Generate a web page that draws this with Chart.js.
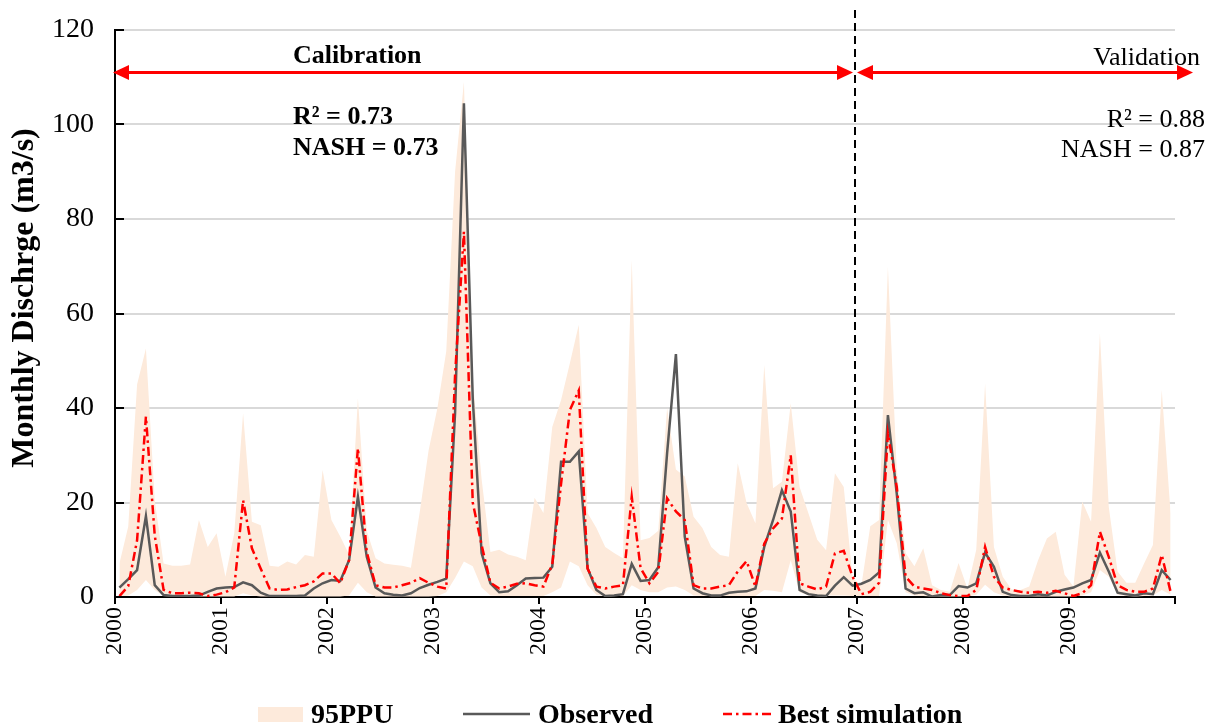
<!DOCTYPE html>
<html>
<head>
<meta charset="utf-8">
<script src="https://cdn.jsdelivr.net/npm/chart.js@4.4.1/dist/chart.umd.min.js"></script>
<style>
html,body{margin:0;padding:0;background:#fff;}
#wrap{width:1208px;height:727px;position:relative;}
</style>
</head>
<body>
<div id="wrap"><canvas id="c" width="1208" height="727"></canvas></div>
<script>
// ---- data (monthly, Jan 2000 .. Dec 2009) ----
const yearLabels = ['2000','2001','2002','2003','2004','2005','2006','2007','2008','2009'];
const yTickValues = [0, 20, 40, 60, 80, 100, 120];
const yTitle = 'Monthly Dischrge (m3/s)';

const observed = [
  2.0, 3.8, 5.7, 17.1, 2.5, 0.4, 0.2, 0.2, 0.2, 0.3, 1.1, 1.8,
  2.0, 2.1, 3.1, 2.5, 0.9, 0.2, 0.2, 0.2, 0.2, 0.3, 1.8, 2.9,
  3.6, 3.4, 7.8, 21.2, 8.5, 2.0, 0.8, 0.5, 0.3, 0.8, 1.9, 2.6,
  3.2, 3.9, 39.0, 104.5, 42.0, 9.3, 2.9, 1.0, 1.2, 2.5, 3.9, 4.0,
  4.1, 6.4, 28.6, 28.6, 30.8, 6.1, 1.5, 0.2, 0.3, 0.6, 7.0, 3.4,
  3.6, 6.3, 30.4, 51.4, 12.8, 1.8, 0.8, 0.3, 0.3, 0.9, 1.1, 1.2,
  1.8, 10.6, 16.3, 22.6, 18.1, 1.5, 0.6, 0.3, 0.2, 2.4, 4.2, 2.4,
  2.8, 3.6, 5.2, 38.5, 21.9, 1.8, 0.8, 1.0, 0.1, 0.4, 0.4, 2.3,
  2.0, 2.9, 9.4, 6.4, 1.1, 0.4, 0.2, 0.2, 0.6, 0.3, 1.1, 1.6,
  2.0, 2.9, 3.6, 9.4, 5.4, 0.9, 0.6, 0.3, 0.8, 0.6, 5.7, 3.6
];

const bestSimulation = [
  0.2, 2.3, 12.0, 38.2, 13.0, 1.5, 0.8, 0.8, 0.9, 0.8, 0.2, 0.5,
  1.0, 2.0, 20.5, 10.3, 6.0, 1.8, 1.5, 1.6, 2.1, 2.5, 3.3, 5.0,
  5.0, 2.9, 7.8, 31.5, 9.5, 2.5, 2.0, 2.0, 2.5, 3.0, 4.0, 3.0,
  2.2, 1.8, 47.0, 77.3, 20.0, 11.0, 3.0, 1.8, 2.2, 2.8, 2.9, 2.5,
  2.2, 6.9, 24.0, 39.6, 43.7, 6.0, 2.2, 1.8, 2.2, 2.5, 21.2, 6.1,
  2.9, 5.3, 20.9, 18.1, 16.3, 2.5, 1.8, 1.8, 2.2, 2.5, 5.4, 7.6,
  2.2, 11.3, 14.5, 16.6, 30.0, 2.9, 2.2, 1.6, 2.2, 9.2, 9.8, 4.3,
  0.6, 1.1, 3.0, 34.6, 23.3, 4.3, 2.2, 1.8, 1.5, 0.8, 0.4, 0.2,
  0.2, 1.5, 10.6, 4.3, 2.0, 1.5, 1.1, 0.9, 1.1, 0.9, 1.3, 0.8,
  0.2, 0.8, 2.5, 13.8, 8.5, 2.5, 1.5, 1.1, 1.1, 1.8, 8.9, 1.1
];

const ppuUpper = [
  7.1, 14.9, 45.0, 52.6, 20.5, 7.1, 6.6, 6.6, 6.9, 16.3, 10.6, 13.5,
  4.3, 13.5, 38.9, 15.9, 15.2, 6.6, 6.4, 7.5, 6.9, 8.9, 8.5, 26.9,
  16.3, 12.8, 9.0, 42.0, 14.0, 8.2, 7.1, 6.8, 6.6, 6.2, 18.0, 31.0,
  40.0, 52.0, 90.0, 109.0, 46.0, 25.0, 9.5, 10.0, 9.0, 8.5, 7.8, 21.0,
  17.8, 36.0, 41.7, 49.5, 57.6, 17.8, 14.6, 10.6, 9.3, 8.2, 71.3, 12.0,
  12.5, 14.0, 40.0, 27.0, 25.5, 17.0, 14.6, 10.6, 8.9, 8.5, 28.3, 19.9,
  15.6, 49.1, 23.0, 24.4, 41.0, 23.3, 17.7, 12.1, 9.9, 26.2, 23.3, 4.0,
  2.5, 15.0, 16.3, 69.9, 27.0, 9.3, 6.5, 10.3, 2.5, 1.5, 1.1, 7.2,
  1.8, 10.0, 45.2, 10.6, 4.3, 1.6, 1.5, 2.2, 7.8, 12.4, 13.8, 4.7,
  2.2, 20.2, 15.9, 55.8, 19.1, 5.4, 3.0, 3.0, 7.1, 11.0, 43.8, 17.7
];

const ppuLower = [
  0.1, 0.3, 1.5, 3.6, 1.5, 0.2, 0.1, 0.1, 0.1, 0.1, 0.1, 0.1,
  0.1, 0.1, 0.8, 0.3, 0.1, 0.1, 0.1, 0.1, 0.1, 0.1, 0.1, 0.1,
  0.1, 0.1, 0.3, 3.0, 1.0, 0.1, 0.1, 0.1, 0.1, 0.1, 0.1, 0.1,
  0.2, 1.0, 4.0, 7.5, 6.5, 2.0, 0.3, 0.2, 0.2, 0.2, 0.2, 0.2,
  0.2, 1.0, 2.0, 7.5, 6.5, 2.5, 0.5, 0.2, 0.2, 0.2, 2.5, 1.5,
  1.0, 1.0, 2.0, 2.2, 1.5, 0.3, 0.2, 0.2, 0.2, 0.2, 0.2, 0.2,
  0.2, 1.5, 1.3, 1.0, 7.8, 1.0, 0.3, 0.3, 0.3, 0.3, 0.3, 0.2,
  0.2, 0.2, 0.2, 16.3, 11.4, 1.0, 0.3, 0.2, 0.1, 0.1, 0.1, 0.1,
  0.1, 0.5, 2.6, 1.0, 0.3, 0.1, 0.1, 0.1, 0.1, 0.1, 0.1, 0.1,
  0.1, 0.3, 1.0, 5.7, 4.3, 0.5, 0.2, 0.1, 0.2, 0.3, 1.5, 0.5
];

const calibrationEndMonth = 84;   // Jan 2007
const arrowLevel = 111;

const FONT = '"Liberation Serif", "Times New Roman", serif';
const BAND = '#FDEADB';
const OBS = '#595959';
const SIM = '#FF0000';
const SIM_DASH = [9, 4, 2.5, 4];

const pts = arr => arr.map((v, i) => ({ x: i + 0.5, y: v }));

function drawArrow(ctx, x1, x2, y) {
  const hl = 16, hw = 7.5;
  ctx.strokeStyle = SIM; ctx.fillStyle = SIM; ctx.lineWidth = 3;
  ctx.beginPath(); ctx.moveTo(x1 + hl - 2, y); ctx.lineTo(x2 - hl + 2, y); ctx.stroke();
  ctx.beginPath(); ctx.moveTo(x1, y); ctx.lineTo(x1 + hl, y - hw); ctx.lineTo(x1 + hl, y + hw); ctx.closePath(); ctx.fill();
  ctx.beginPath(); ctx.moveTo(x2, y); ctx.lineTo(x2 - hl, y - hw); ctx.lineTo(x2 - hl, y + hw); ctx.closePath(); ctx.fill();
}

const overlay = {
  id: 'overlay',
  afterDraw(chart) {
    const { ctx, chartArea: a, scales: { x, y } } = chart;
    ctx.save();
    // y-axis title
    ctx.save();
    ctx.translate(25, 298); ctx.rotate(-Math.PI / 2);
    ctx.fillStyle = '#000'; ctx.textAlign = 'center'; ctx.textBaseline = 'middle';
    ctx.font = 'bold 32px ' + FONT;
    ctx.fillText(yTitle, 0, 0);
    ctx.restore();
    // inward y-axis ticks
    ctx.strokeStyle = '#000'; ctx.lineWidth = 2;
    yTickValues.forEach(v => {
      const py = Math.round(y.getPixelForValue(v));
      ctx.beginPath(); ctx.moveTo(a.left, py); ctx.lineTo(a.left + 9, py); ctx.stroke();
    });
    // calibration / validation divider
    const dx = x.getPixelForValue(calibrationEndMonth) - 2;
    ctx.setLineDash([8, 5]); ctx.lineWidth = 2; ctx.strokeStyle = '#000';
    ctx.beginPath(); ctx.moveTo(dx, 10); ctx.lineTo(dx, a.bottom); ctx.stroke();
    ctx.setLineDash([]);
    // arrows
    const ay = y.getPixelForValue(arrowLevel);
    drawArrow(ctx, a.left - 2, dx - 2, ay);
    drawArrow(ctx, dx + 2, 1193, ay);
    // texts
    ctx.fillStyle = '#000';
    ctx.textBaseline = 'alphabetic';
    ctx.textAlign = 'left';
    ctx.font = 'bold 26px ' + FONT;
    ctx.fillText('Calibration', 293, 63);
    ctx.fillText('R² = 0.73', 293, 124);
    ctx.fillText('NASH = 0.73', 293, 155);
    ctx.textAlign = 'right';
    ctx.font = '26px ' + FONT;
    ctx.fillText('Validation', 1200, 65);
    ctx.fillText('R² = 0.88', 1205, 127);
    ctx.fillText('NASH = 0.87', 1205, 157);
    // legend
    ctx.textAlign = 'left';
    ctx.font = 'bold 28px ' + FONT;
    const ly = 714, lb = 723;
    ctx.fillStyle = BAND; ctx.fillRect(258, 707, 45, 15);
    ctx.fillStyle = '#000'; ctx.fillText('95PPU', 311, lb);
    ctx.strokeStyle = OBS; ctx.lineWidth = 2.5;
    ctx.beginPath(); ctx.moveTo(463, ly); ctx.lineTo(530, ly); ctx.stroke();
    ctx.fillStyle = '#000'; ctx.fillText('Observed', 538, lb);
    ctx.strokeStyle = SIM; ctx.setLineDash(SIM_DASH);
    ctx.beginPath(); ctx.moveTo(723, ly); ctx.lineTo(772, ly); ctx.stroke();
    ctx.setLineDash([]);
    ctx.fillStyle = '#000'; ctx.fillText('Best simulation', 778, lb);
    ctx.restore();
  }
};

new Chart(document.getElementById('c'), {
  type: 'line',
  data: {
    datasets: [
      { label: 'Best simulation', data: pts(bestSimulation), borderColor: SIM, borderWidth: 2.5,
        borderDash: SIM_DASH, pointRadius: 0, tension: 0, fill: false },
      { label: 'Observed', data: pts(observed), borderColor: OBS, borderWidth: 2.5,
        pointRadius: 0, tension: 0, fill: false },
      { label: '95PPU', data: pts(ppuUpper), borderWidth: 0, borderColor: 'rgba(0,0,0,0)',
        backgroundColor: BAND, pointRadius: 0, tension: 0, fill: '+1' },
      { label: '95PPU lower', data: pts(ppuLower), borderWidth: 0, borderColor: 'rgba(0,0,0,0)',
        pointRadius: 0, tension: 0, fill: false }
    ]
  },
  options: {
    responsive: false,
    animation: false,
    devicePixelRatio: 1,
    layout: { padding: { left: 0, right: 33, top: 30, bottom: 70 } },
    plugins: { legend: { display: false }, tooltip: { enabled: false } },
    scales: {
      x: {
        type: 'linear', min: 0, max: 120,
        afterFit: s => { s.height = 60; },
        ticks: {
          stepSize: 12, autoSkip: false, maxRotation: 90, minRotation: 90,
          color: '#000', font: { family: FONT, size: 24 }, padding: 3,
          callback: v => (yearLabels[v / 12] !== undefined ? yearLabels[v / 12] : '')
        },
        grid: { drawOnChartArea: false, drawTicks: true, tickLength: 7, color: '#000', lineWidth: 2 },
        border: { display: true, color: '#000', width: 2 }
      },
      y: {
        min: 0, max: 120,
        afterFit: s => { s.width = 115; },
        ticks: { stepSize: 20, color: '#000', font: { family: FONT, size: 28 }, padding: 0 },
        grid: { color: '#d9d9d9', lineWidth: 2, drawTicks: true, tickLength: 21,
                tickColor: 'rgba(0,0,0,0)' },
        border: { display: true, color: '#000', width: 2 }
      }
    }
  },
  plugins: [overlay]
});
</script>
</body>
</html>
